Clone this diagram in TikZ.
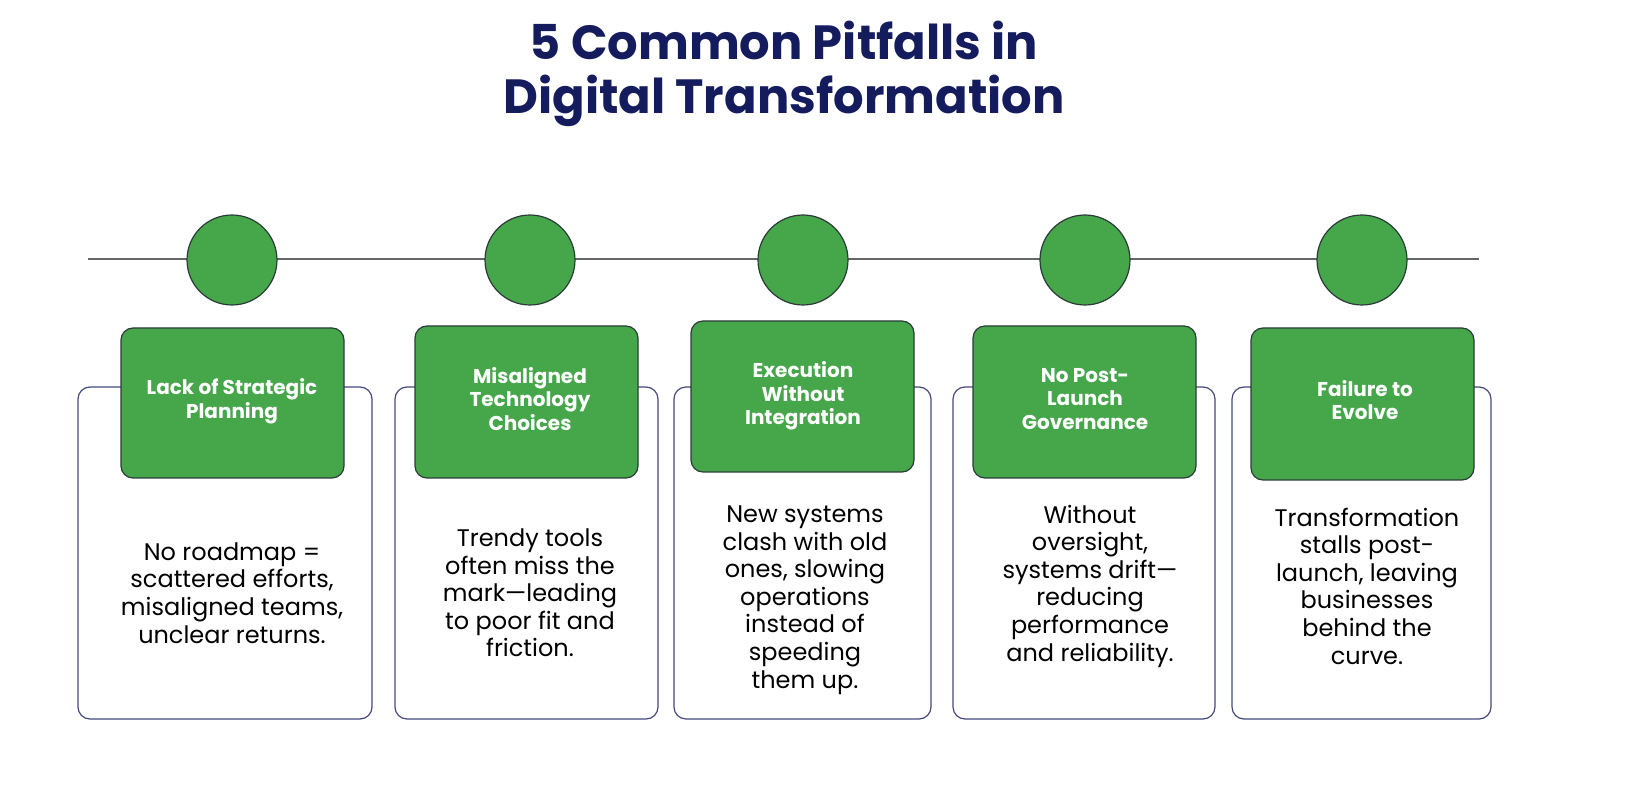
\documentclass[tikz,border=0pt]{standalone}
\usepackage{fontspec}
\setmainfont{Poppins}
\definecolor{navy}{HTML}{141C5E}
\definecolor{grn}{HTML}{46A64A}
\definecolor{edge}{HTML}{2A3B3A}
\begin{document}
\begin{tikzpicture}[x=0.5pt,y=-0.5pt,
 wbox/.style={draw=navy!80,line width=0.6pt,fill=white,rounded corners=6pt},
 gbox/.style={draw=edge,line width=0.6pt,fill=grn,rounded corners=6pt},
 dot/.style={circle,draw=edge,line width=0.6pt,fill=grn,minimum size=45pt,inner sep=0pt},
 ttl/.style={text=white,font=\bfseries\fontsize{10}{11.8}\selectfont,align=center},
 body/.style={text=black,font=\fontsize{12}{13.8}\selectfont,align=center}]
\useasboundingbox (0,0) rectangle (1650,796);
\node[text=navy,font=\bfseries\fontsize{24}{27}\selectfont,align=center] (title) at (784,74) {5 Common Pitfalls in\\Digital Transformation};
\coordinate (L) at (88,259); \coordinate (R) at (1479,259);
\draw[gray!80!black,line width=0.8pt] (L) -- (R);
\foreach \cx/\n in {232/1,530/2,803/3,1085/4,1362/5} \node[dot] (c\n) at (\cx,260) {};
\draw[wbox] (78,387) rectangle (372,719);
\draw[wbox] (395,387) rectangle (658,719);
\draw[wbox] (674,387) rectangle (931,719);
\draw[wbox] (953,387) rectangle (1215,719);
\draw[wbox] (1232,387) rectangle (1491,719);
\draw[gbox] (121,328) rectangle (344,478);
\draw[gbox] (415,326) rectangle (638,478);
\draw[gbox] (691,321) rectangle (914,472);
\draw[gbox] (973,326) rectangle (1196,478);
\draw[gbox] (1251,328) rectangle (1474,480);
\node[ttl] (g1) at (232,401) {Lack of Strategic\\Planning};
\node[ttl] (g2) at (530,399) {Misaligned\\Technology\\Choices};
\node[ttl] (g3) at (803,396) {Execution\\Without\\Integration};
\node[ttl] (g4) at (1085,399) {No Post-\\Launch\\Governance};
\node[ttl] (g5) at (1365,400) {Failure to\\Evolve};
\node[body] (b1) at (232,593) {No roadmap =\\scattered efforts,\\misaligned teams,\\unclear returns.};
\node[body] (b2) at (530,593) {Trendy tools\\often miss the\\mark—leading\\to poor fit and\\friction.};
\node[body] (b3) at (805,600) {New systems\\clash with old\\ones, slowing\\operations\\instead of\\speeding\\them up.};
\node[body] (b4) at (1090,586) {Without\\oversight,\\systems drift—\\reducing\\performance\\and reliability.};
\node[body] (b5) at (1367,586) {Transformation\\stalls post-\\launch, leaving\\businesses\\behind the\\curve.};
\end{tikzpicture}
\end{document}
